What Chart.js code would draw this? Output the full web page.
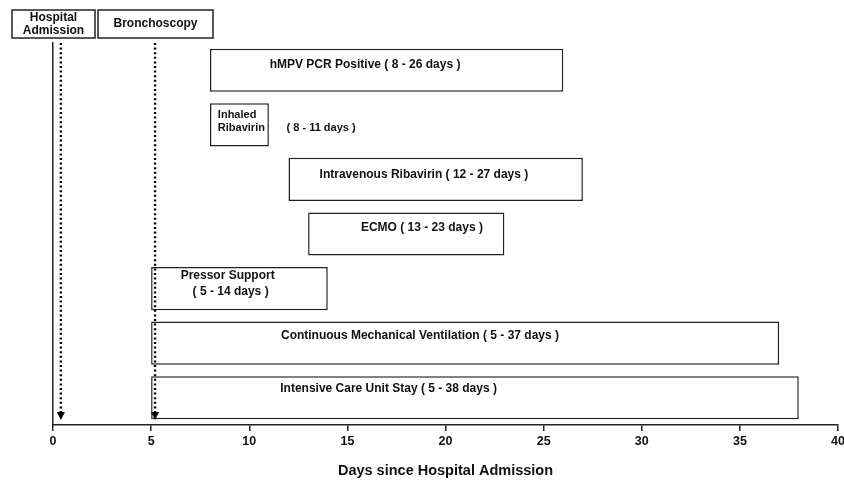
<!DOCTYPE html>
<html>
<head>
<meta charset="utf-8">
<script src="https://cdn.jsdelivr.net/npm/chart.js@4.4.1/dist/chart.umd.min.js"></script>
<style>
  html, body { margin: 0; padding: 0; background: #fff; }
  #wrap { width: 844px; height: 480px; }
</style>
</head>
<body>
<div id="wrap"><canvas id="myChart"></canvas></div>
<script>
// Timeline of the hospital course (days since admission)
const categories = ['hMPV PCR Positive', 'Inhaled Ribavirin', 'Intravenous Ribavirin', 'ECMO',
  'Pressor Support', 'Continuous Mechanical Ventilation', 'Intensive Care Unit Stay'];
const startDay = [8, 8, 12, 13, 5, 5, 5];
const endDay = [26, 11, 27, 23, 14, 37, 38];
const xTickStep = 5;
const eventNames = [['Hospital', 'Admission'], ['Bronchoscopy']];
const eventDay = [0.4, 5.2];

const FONT = '"Liberation Sans", Arial, sans-serif';

// text inside each bar: [text, day, fraction of bar height, align, font size]
const span = i => '( ' + startDay[i] + ' - ' + endDay[i] + ' days )';
const barNotes = [
  [[categories[0] + ' ' + span(0), 15.9, 0.36, 'center', 12]],
  [['Inhaled', 8.4, 0.28, 'left', 11], ['Ribavirin', 8.4, 0.58, 'left', 11], [span(1), 11.9, 0.58, 'left', 11]],
  [[categories[2] + ' ' + span(2), 18.9, 0.38, 'center', 12]],
  [[categories[3] + ' ' + span(3), 18.8, 0.35, 'center', 12]],
  [['Pressor Support', 8.9, 0.21, 'center', 12], [span(4), 9.05, 0.58, 'center', 12]],
  [[categories[5] + ' ' + span(5), 18.7, 0.32, 'center', 12]],
  [[categories[6] + ' ' + span(6), 17.1, 0.30, 'center', 12]]
];

// event boxes at the top: [left, top, right, bottom] in px
const eventBoxes = [[12, 10, 95, 38], [98, 10, 213, 38]];

const notesPlugin = {
  id: 'notes',
  afterDatasetsDraw(chart) {
    const ctx = chart.ctx;
    const meta = chart.getDatasetMeta(0);
    const xs = chart.scales.x;
    ctx.save();
    ctx.fillStyle = '#111';
    ctx.textBaseline = 'middle';
    meta.data.forEach((bar, i) => {
      const top = bar.y - bar.height / 2;
      barNotes[i].forEach(n => {
        ctx.font = 'bold ' + n[4] + 'px ' + FONT;
        ctx.textAlign = n[3];
        ctx.fillText(n[0], xs.getPixelForValue(n[1]), top + bar.height * n[2]);
      });
    });

    // event boxes
    ctx.strokeStyle = '#222';
    ctx.lineWidth = 1.5;
    ctx.font = 'bold 12px ' + FONT;
    ctx.textAlign = 'center';
    eventBoxes.forEach((b, i) => {
      ctx.fillStyle = '#fff';
      ctx.fillRect(b[0], b[1], b[2] - b[0], b[3] - b[1]);
      ctx.strokeRect(b[0], b[1], b[2] - b[0], b[3] - b[1]);
      ctx.fillStyle = '#111';
      const lines = eventNames[i];
      const cx = (b[0] + b[2]) / 2, cy = (b[1] + b[3]) / 2;
      lines.forEach((t, k) => {
        ctx.fillText(t, cx, cy + (k - (lines.length - 1) / 2) * 13);
      });
    });

    // dotted arrows down to the axis
    const ca = chart.chartArea;
    eventDay.forEach(d => {
      const x = xs.getPixelForValue(d);
      ctx.strokeStyle = '#000';
      ctx.lineWidth = 2.4;
      ctx.setLineDash([2, 2.6]);
      ctx.beginPath();
      ctx.moveTo(x, ca.top);
      ctx.lineTo(x, ca.bottom - 12);
      ctx.stroke();
      ctx.setLineDash([]);
      ctx.fillStyle = '#000';
      ctx.beginPath();
      ctx.moveTo(x - 4, ca.bottom - 13);
      ctx.lineTo(x + 4, ca.bottom - 13);
      ctx.lineTo(x, ca.bottom - 5);
      ctx.closePath();
      ctx.fill();
    });
    ctx.restore();
  }
};

new Chart('myChart', {
  type: 'bar',
  data: {
    labels: categories,
    datasets: [{
      data: startDay.map((s, i) => [s, endDay[i]]),
      backgroundColor: '#fff',
      borderColor: '#222',
      borderWidth: 1.5,
      borderSkipped: false,
      barPercentage: 0.79,
      categoryPercentage: 1
    }]
  },
  options: {
    indexAxis: 'y',
    responsive: true,
    maintainAspectRatio: false,
    animation: false,
    layout: { padding: { top: 43, right: 0, left: 0, bottom: 0 } },
    plugins: {
      legend: { display: false },
      tooltip: { enabled: false }
    },
    scales: {
      y: {
        ticks: { display: false },
        grid: { display: false },
        border: { display: true, color: '#222', width: 1.5 },
        afterFit(scale) { scale.width = 53; }
      },
      x: {
        min: 0,
        max: 40,
        ticks: {
          stepSize: xTickStep,
          color: '#111',
          padding: 3,
          font: { family: FONT, size: 12.5, weight: 'bold' }
        },
        grid: { drawOnChartArea: false, drawTicks: true, tickLength: 6, color: '#222', lineWidth: 1.5 },
        border: { display: true, color: '#222', width: 1.5 },
        title: {
          display: true,
          text: 'Days since Hospital Admission',
          color: '#111',
          padding: { top: 10, bottom: 0 },
          font: { family: FONT, size: 14.5, weight: 'bold' }
        },
        afterFit(scale) {
          scale.height = 55;
          scale.paddingLeft = 0;
          scale.paddingRight = 6;  // let the "40" run to the edge like the original
        }
      }
    }
  },
  plugins: [notesPlugin]
});
</script>
</body>
</html>
